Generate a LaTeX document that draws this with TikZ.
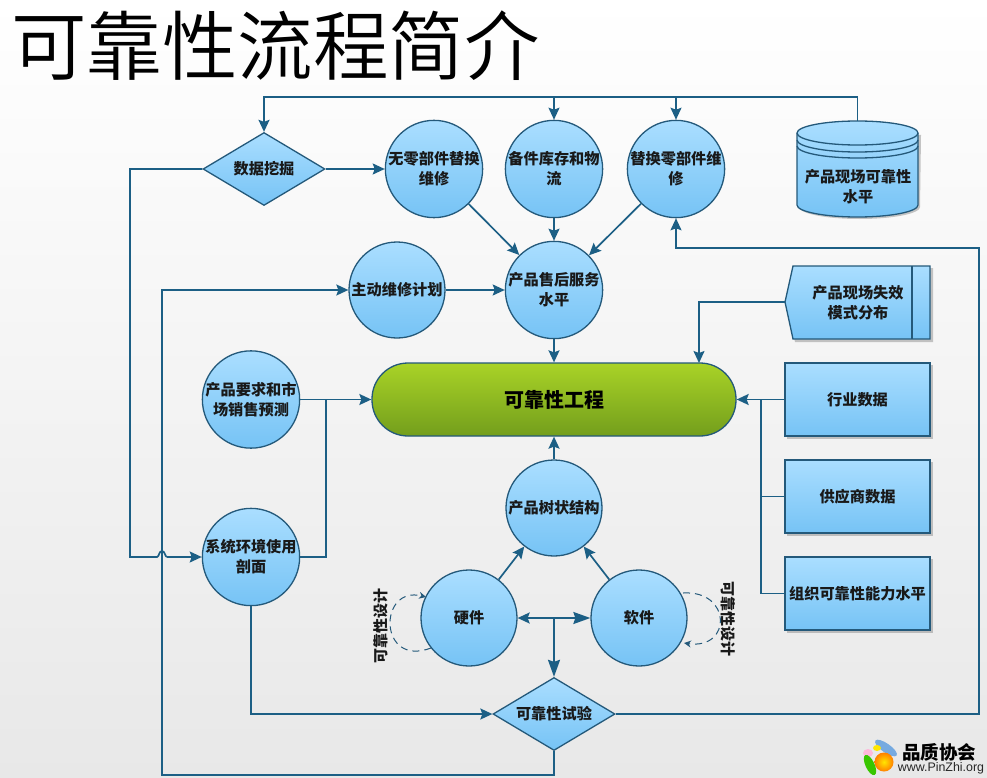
\documentclass[tikz,border=0pt]{standalone}
\usepackage{fontspec}
\setmainfont{Noto Sans CJK SC}
\newfontfamily\lightcjk{Noto Sans CJK SC DemiLight}
\newfontfamily\latinfont{Liberation Sans}
\usetikzlibrary{arrows.meta,shapes.geometric,calc}
\definecolor{lineC}{HTML}{1C5F85}
\definecolor{edgeC}{HTML}{24597A}
\definecolor{blueT}{HTML}{AADEFF}
\definecolor{blueB}{HTML}{76C3F5}
\definecolor{greenT}{HTML}{A9D327}
\definecolor{greenB}{HTML}{739E1C}
\tikzset{
  lab/.style={font=\bfseries\fontsize{15.2}{20}\selectfont,text=black!90,align=center,inner sep=0pt},
  blue fill/.style={top color=blueT,bottom color=blueB,draw=edgeC,line width=1.3pt},
  roundbox/.style={circle,blue fill,lab,minimum size=96pt},
  decision/.style={diamond,blue fill,lab,aspect=1.67,minimum width=122pt,minimum height=73pt},
  squarebox/.style={rectangle,blue fill,lab,minimum width=145pt,minimum height=73pt},
  boxshadow/.style={fill=black!55,opacity=.4},
  conn/.style={draw=lineC,line width=1.7pt},
  arrow/.style={conn,-{Stealth[length=12pt,width=11pt,inset=2pt]}},
  bigarrow/.style={conn,line width=2pt,-{Stealth[length=17pt,width=12pt,inset=2pt]}},
  dashloop/.style={draw=edgeC,line width=1pt,dash pattern=on 7pt off 5pt,-{Stealth[length=7pt,width=7pt]}},
}
\begin{document}
\begin{tikzpicture}[x=1pt,y=-1pt]
\useasboundingbox (0,0) rectangle (987,778);
\shade[top color=white,middle color=white!98!black,bottom color=black!9] (0,0) rectangle (987,778);

\node[anchor=west,inner sep=0pt,font=\lightcjk\fontsize{75.5}{76}\selectfont] (title) at (11,46) {可靠性流程简介};

% shadows of the boxes
\fill[boxshadow] (787,365) rectangle (933,439);
\fill[boxshadow] (787,462) rectangle (933,536);
\fill[boxshadow] (787,559) rectangle (933,633);
\fill[boxshadow] (787,304) -- (795,268) -- (933,268) -- (933,342) -- (795,342) -- cycle;
\fill[boxshadow] (799,135) -- (799,207) arc[start angle=180,end angle=0,x radius=60.5,y radius=12] -- (921,135) -- cycle;

% circles
\node[roundbox] (nopart) at (434,169) {无零部件替换\\维修};
\node[roundbox] (stock) at (554,169) {备件库存和物\\流};
\node[roundbox] (swap) at (676,169) {替换零部件维\\修};
\node[roundbox] (after) at (554,290) {产品售后服务\\水平};
\node[roundbox] (plan) at (397,290) {主动维修计划};
\node[roundbox] (market) at (251,399.5) {产品要求和市\\场销售预测};
\node[roundbox] (env) at (251,557) {系统环境使用\\剖面};
\node[roundbox] (tree) at (554,508) {产品树状结构};
\node[roundbox] (hw) at (469,618) {硬件};
\node[roundbox] (sw) at (639,618) {软件};

% diamonds
\node[decision] (mine) at (264,169) {数据挖掘};
\node[decision] (test) at (554,714) {可靠性试验};

% main pill
\node[rectangle,rounded corners=36pt,top color=greenT,bottom color=greenB,draw=edgeC,line width=1.3pt,
  minimum width=364pt,minimum height=73pt,inner sep=0pt,
  font=\bfseries\fontsize{20}{24}\selectfont] (rel) at (554,399.5) {可靠性工程};

% boxes
\node[squarebox] (ind) at (857.5,399.5) {行业数据};
\node[squarebox] (sup) at (857.5,496.5) {供应商数据};
\node[squarebox] (org) at (857.5,593.5) {组织可靠性能力水平};

% off-page pentagon
\path[blue fill] (785,302) -- (793,266) -- (930,266) -- (930,339) -- (793,339) -- cycle;
\draw[edgeC,line width=1.3pt] (912,266) -- (912,339);
\coordinate (failtip) at (785,302);
\node[lab] (fail) at (858,303) {产品现场失效\\模式分布};

% cylinder
\path[blue fill] (797,133) -- (797,205) arc[start angle=180,end angle=0,x radius=60.5,y radius=12] -- (918,133)
  arc[start angle=0,end angle=-180,x radius=60.5,y radius=12] -- cycle;
\draw[edgeC,line width=1.3pt] (797,133) arc[start angle=180,end angle=0,x radius=60.5,y radius=12];
\draw[edgeC,line width=1.3pt] (797,140) arc[start angle=180,end angle=0,x radius=60.5,y radius=12];
\draw[edgeC,line width=1.3pt] (797,146) arc[start angle=180,end angle=0,x radius=60.5,y radius=12];
\coordinate (cyltop) at (857.5,121);
\node[lab] (field) at (858,187) {产品现场可靠性\\水平};

% routing points
\coordinate (topR) at (857.5,97);
\coordinate (topL) at (264,97);
\coordinate (topA) at (554,97);
\coordinate (topB) at (676,97);
\coordinate (leftA) at (130,169);
\coordinate (leftB) at (130,557);
\coordinate (hopL) at (157,557);
\coordinate (hopR) at (167,557);
\coordinate (loopA) at (554,775);
\coordinate (loopB) at (162,775);
\coordinate (loopC) at (162,290);
\coordinate (joinM) at (326,399.5);
\coordinate (joinE) at (326,557);
\coordinate (joinR) at (761,399.5);
\coordinate (joinS) at (761,496.5);
\coordinate (joinO) at (761,593.5);
\coordinate (envC) at (251,714);
\coordinate (rightA) at (979,714);
\coordinate (rightB) at (979,248);
\coordinate (rightC) at (676,248);
\coordinate (failA) at (699,302);
\coordinate (failB) at (699,363);
\coordinate (midT) at (554,618);

% connectors
\draw[arrow] (cyltop) -- (topR) -- (topL) -- (mine.north);
\draw[arrow] (topA) -- (stock.north);
\draw[arrow] (topB) -- (swap.north);
\draw[arrow] (mine.east) -- (nopart.west);
\draw[conn] (mine.west) -- (leftA) -- (leftB) -- (hopL)
  .. controls ($(hopL)+(2,0)$) and ($(hopL)+(2,-6)$) .. ($(hopL)!.5!(hopR)+(0,-6)$)
  .. controls ($(hopR)+(-2,-6)$) and ($(hopR)+(-2,0)$) .. (hopR);
\draw[arrow] (hopR) -- (env.west);
\draw[arrow] (nopart) -- (after);
\draw[arrow] (stock) -- (after);
\draw[arrow] (swap) -- (after);
\draw[arrow] (plan) -- (after);
\draw[arrow] (test.south) -- (loopA) -- (loopB) -- (loopC) -- (plan.west);
\draw[arrow] (after) -- (rel.north);
\draw[arrow] (failtip) -- (failA) -- (failB);
\draw[arrow] (ind.west) -- (rel.east);
\draw[conn] (sup.west) -- (joinS) -- (joinR);
\draw[conn] (org.west) -- (joinO) -- (joinS);
\draw[arrow] (market.east) -- (rel.west);
\draw[conn] (env.east) -- (joinE) -- (joinM);
\draw[arrow] (tree) -- (rel.south);
\draw[arrow] (hw) -- (tree);
\draw[arrow] (sw) -- (tree);
\draw[conn,{Stealth[length=12pt,width=11pt,inset=2pt]}-{Stealth[length=17pt,width=12pt,inset=2pt]}] (hw.east) -- (sw.west);
\draw[bigarrow] (midT) -- (test.north);
\draw[arrow] (env.south) -- (envC) -- (test.west);
\draw[arrow] (test.east) -- (rightA) -- (rightB) -- (rightC) -- (swap.south);

% self loops
\draw[dashloop] (431,648) .. controls (378,668) and (378,585) .. (426,597);
\draw[dashloop] (683,593) .. controls (732,590) and (732,650) .. (684,643);
\node[lab,rotate=90,font=\bfseries\fontsize{15}{15}\selectfont] (dl) at (381,626) {可靠性设计};
\node[lab,rotate=-90,font=\bfseries\fontsize{15}{15}\selectfont] (dr) at (728,619) {可靠性设计};

% logo
\fill[cyan!60!blue!55!white,rotate around={-35:(886,748)}] (886,748) ellipse[x radius=13,y radius=4.5];
\fill[pink!80!magenta!70] (868,753) ellipse[x radius=5,y radius=4];
\fill[yellow!90!orange] (877,748) ellipse[x radius=4,y radius=3];
\shade[inner color=yellow!80!orange,outer color=orange] (884,762) circle[radius=9.5];
\fill[green!55!olive,rotate around={-65:(870,765)}] (870,765) ellipse[x radius=11,y radius=4.5];
\node[inner sep=0pt,font=\bfseries\fontsize{18.5}{20}\selectfont] (logoA) at (939,752) {品质协会};
\node[inner sep=0pt,font=\latinfont\fontsize{12.4}{14}\selectfont,text=black!85] (logoB) at (941,768) {www.PinZhi.org};
\end{tikzpicture}
\end{document}
